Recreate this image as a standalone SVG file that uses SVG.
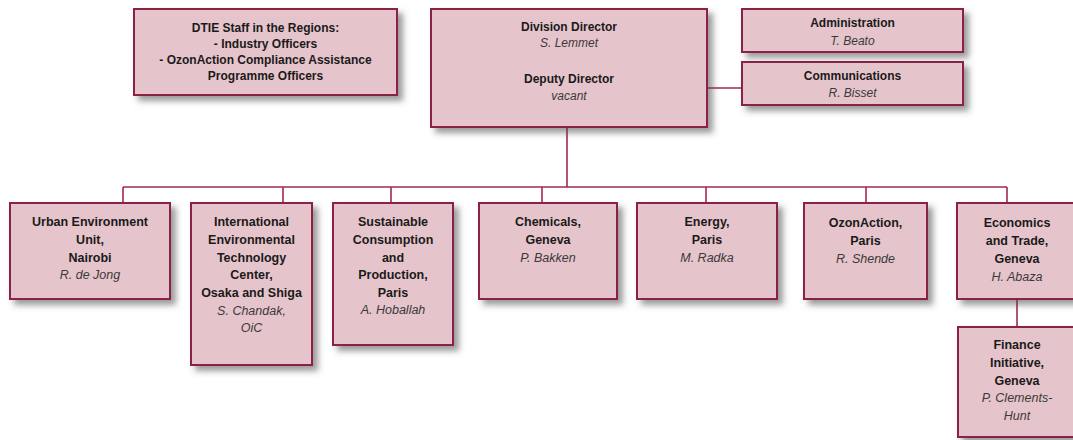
<svg xmlns="http://www.w3.org/2000/svg" width="1073" height="440" viewBox="0 0 1073 440">
<defs>
<filter id="sh" x="-10%" y="-10%" width="130%" height="140%">
<feDropShadow dx="5" dy="5" stdDeviation="3" flood-color="#4a4a4a" flood-opacity="0.55"/>
</filter>
<style>
.box{fill:#e6c4cb;stroke:#8a2347;stroke-width:2;filter:url(#sh)}
.conn{stroke:#a3294f;stroke-width:1.6;fill:none}
text{font-family:"Liberation Sans",Arial,sans-serif;text-anchor:middle;fill:#1a1a1a}
.b{font-weight:bold;font-size:12px}
.bb{font-weight:bold;font-size:12.5px}
.i{font-style:italic;font-size:12px;fill:#3a3a3a}
.ii{font-style:italic;font-size:12.5px;fill:#3a3a3a}
</style>
</defs>
<rect width="1073" height="440" fill="#ffffff"/>
<g id="connectors">
<line class="conn" x1="567" y1="127" x2="567" y2="187"/>
<line class="conn" x1="123" y1="187" x2="1007" y2="187"/>
<line class="conn" x1="123" y1="187" x2="123" y2="203"/>
<line class="conn" x1="283" y1="187" x2="283" y2="203"/>
<line class="conn" x1="391" y1="187" x2="391" y2="203"/>
<line class="conn" x1="542" y1="187" x2="542" y2="203"/>
<line class="conn" x1="706" y1="187" x2="706" y2="203"/>
<line class="conn" x1="866" y1="187" x2="866" y2="203"/>
<line class="conn" x1="1007" y1="187" x2="1007" y2="203"/>
<line class="conn" x1="1017" y1="299" x2="1017" y2="327"/>
<line class="conn" x1="707" y1="88" x2="742" y2="88"/>
</g>
<g id="dtie-staff">
<rect class="box" x="134" y="9" width="263" height="86"/>
<text class="b" x="265.5" y="32">DTIE Staff in the Regions:</text>
<text class="b" x="265.5" y="48">- Industry Officers</text>
<text class="b" x="265.5" y="64">- OzonAction Compliance Assistance</text>
<text class="b" x="265.5" y="80">Programme Officers</text>
</g>
<g id="director">
<rect class="box" x="431" y="9" width="276" height="118"/>
<text class="b" x="569" y="31">Division Director</text>
<text class="i" x="569" y="47">S. Lemmet</text>
<text class="b" x="569" y="83">Deputy Director</text>
<text class="i" x="569" y="100">vacant</text>
</g>
<g id="administration">
<rect class="box" x="742" y="9" width="221" height="43"/>
<text class="b" x="852.5" y="27">Administration</text>
<text class="i" x="852.5" y="45">T. Beato</text>
</g>
<g id="communications">
<rect class="box" x="742" y="62" width="221" height="43"/>
<text class="b" x="852.5" y="80">Communications</text>
<text class="i" x="852.5" y="97">R. Bisset</text>
</g>
<g id="urban">
<rect class="box" x="10" y="203" width="160" height="96"/>
<text class="bb" x="90" y="226">Urban Environment</text>
<text class="bb" x="90" y="244">Unit,</text>
<text class="bb" x="90" y="262">Nairobi</text>
<text class="ii" x="90" y="279">R. de Jong</text>
</g>
<g id="ietc">
<rect class="box" x="191" y="203" width="121" height="162"/>
<text class="bb" x="251.5" y="226">International</text>
<text class="bb" x="251.5" y="244">Environmental</text>
<text class="bb" x="251.5" y="262">Technology</text>
<text class="bb" x="251.5" y="279">Center,</text>
<text class="bb" x="251.5" y="297">Osaka and Shiga</text>
<text class="ii" x="251.5" y="315">S. Chandak,</text>
<text class="ii" x="251.5" y="332">OiC</text>
</g>
<g id="scp">
<rect class="box" x="333" y="203" width="120" height="142"/>
<text class="bb" x="393" y="226">Sustainable</text>
<text class="bb" x="393" y="244">Consumption</text>
<text class="bb" x="393" y="262">and</text>
<text class="bb" x="393" y="279">Production,</text>
<text class="bb" x="393" y="297">Paris</text>
<text class="ii" x="393" y="314">A. Hoballah</text>
</g>
<g id="chemicals">
<rect class="box" x="479" y="203" width="138" height="96"/>
<text class="bb" x="548" y="226">Chemicals,</text>
<text class="bb" x="548" y="244">Geneva</text>
<text class="ii" x="548" y="262">P. Bakken</text>
</g>
<g id="energy">
<rect class="box" x="637" y="203" width="140" height="96"/>
<text class="bb" x="707" y="226">Energy,</text>
<text class="bb" x="707" y="244">Paris</text>
<text class="ii" x="707" y="262">M. Radka</text>
</g>
<g id="ozonaction">
<rect class="box" x="804" y="203" width="123" height="96"/>
<text class="bb" x="865.5" y="227">OzonAction,</text>
<text class="bb" x="865.5" y="245">Paris</text>
<text class="ii" x="865.5" y="263">R. Shende</text>
</g>
<g id="economics">
<rect class="box" x="957" y="203" width="121" height="96"/>
<text class="bb" x="1017" y="227">Economics</text>
<text class="bb" x="1017" y="245">and Trade,</text>
<text class="bb" x="1017" y="263">Geneva</text>
<text class="ii" x="1017" y="281">H. Abaza</text>
</g>
<g id="finance">
<rect class="box" x="958" y="327" width="121" height="110"/>
<text class="bb" x="1017" y="349">Finance</text>
<text class="bb" x="1017" y="367">Initiative,</text>
<text class="bb" x="1017" y="385">Geneva</text>
<text class="ii" x="1017" y="402">P. Clements-</text>
<text class="ii" x="1017" y="420">Hunt</text>
</g>
</svg>
